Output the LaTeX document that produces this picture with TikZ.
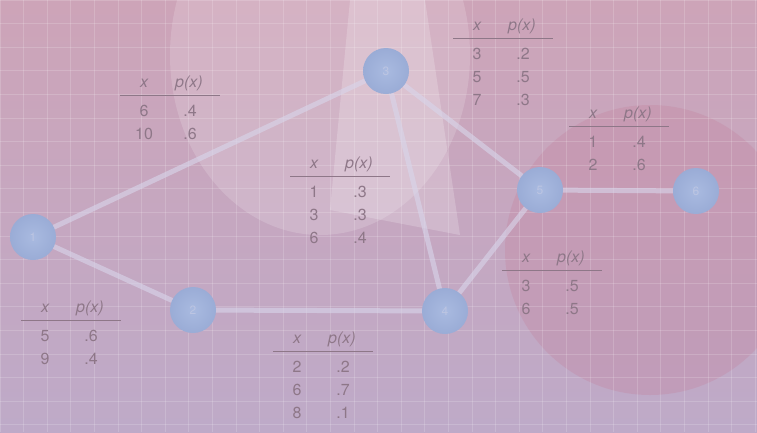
\documentclass[tikz,border=0pt]{standalone}
\usepackage{fontspec}
\setmainfont{TeX Gyre Heros}
\usetikzlibrary{shapes.geometric}
\pgfdeclarelayer{bg}
\pgfdeclarelayer{edges}
\pgfsetlayers{bg,edges,main}
\definecolor{bgtop}{HTML}{CDA4B8}
\definecolor{bgbot}{HTML}{BEAAC8}
\definecolor{rosedisc}{HTML}{C4849F}
\definecolor{nodein}{HTML}{A9BAE0}
\definecolor{nodeout}{HTML}{9AACD6}
\definecolor{edgecol}{HTML}{D8D5EA}
\definecolor{inkcol}{HTML}{8E7788}
\definecolor{lblcol}{HTML}{BCC5E2}
\tikzset{
  netnode/.style={circle, minimum size=46pt, inner sep=0pt, shading=radial,
    inner color=nodein, outer color=nodeout, text=lblcol,
    font=\fontsize{12}{12}\selectfont},
  netedge/.style={draw=edgecol, line width=5pt, opacity=0.62, line cap=round},
  tabtxt/.style={inner sep=0pt, anchor=base, text=inkcol,
    font=\fontsize{16}{16}\selectfont},
  tabrule/.style={draw=inkcol, line width=0.9pt},
  gridline/.style={draw=white, opacity=0.17, line width=0.7pt}
}
\newcommand\ptab[4]{%
  \node[tabtxt] (#1-hx) at ({#2},{#3+5}) {\itshape x};
  \node[tabtxt] (#1-hp) at ({#2+45},{#3+5}) {\itshape p(x)};
  \draw[tabrule] ({#2-24},{#3+13}) -- ({#2+76},{#3+13});
  \foreach \v/\p [count=\i] in {#4} {
    \node[tabtxt] (#1-v\i) at ({#2},{#3+34+(\i-1)*23}) {\v};
    \node[tabtxt] (#1-p\i) at ({#2+46},{#3+34+(\i-1)*23}) {\p};
  }%
}
\begin{document}
\begin{tikzpicture}[x=1pt,y=-1pt]
\useasboundingbox (0,0) rectangle (757,432);
% background
\begin{pgfonlayer}{bg}
\shade[top color=bgtop, bottom color=bgbot] (0,0) rectangle (757,432);
\begin{scope}
\clip (0,0) rectangle (757,432);
\fill[rosedisc, opacity=0.33] (650,250) circle [radius=145pt];
\fill[white, opacity=0.16] (320,55) ellipse [x radius=150pt, y radius=180pt];
\fill[white, opacity=0.2] (350,0) -- (425,0) -- (460,235) -- (330,210) -- cycle;
\foreach \gx in {0,23.6,...,757} \draw[gridline] (\gx,0) -- (\gx,432);
\foreach \gy in {0,23.6,...,432} \draw[gridline] (0,\gy) -- (757,\gy);
\end{scope}
\end{pgfonlayer}
% nodes
\node[netnode] (n1) at (33,237) {1};
\node[netnode] (n2) at (193,310) {2};
\node[netnode] (n3) at (386,71) {3};
\node[netnode] (n4) at (445,311) {4};
\node[netnode] (n5) at (540,190) {5};
\node[netnode] (n6) at (696,191) {6};
% connectors
\begin{pgfonlayer}{edges}
\draw[netedge] (n1) -- (n3);
\draw[netedge] (n1) -- (n2);
\draw[netedge] (n2) -- (n4);
\draw[netedge] (n3) -- (n4);
\draw[netedge] (n3) -- (n5);
\draw[netedge] (n4) -- (n5);
\draw[netedge] (n5) -- (n6);
\end{pgfonlayer}
% tables
\ptab{tA}{144}{82}{6/.4,10/.6}
\ptab{tB}{314}{163}{1/.3,3/.3,6/.4}
\ptab{tC}{477}{25}{3/.2,5/.5,7/.3}
\ptab{tD}{593}{113}{1/.4,2/.6}
\ptab{tE}{526}{257}{3/.5,6/.5}
\ptab{tF}{45}{307}{5/.6,9/.4}
\ptab{tG}{297}{338}{2/.2,6/.7,8/.1}
\end{tikzpicture}
\end{document}
